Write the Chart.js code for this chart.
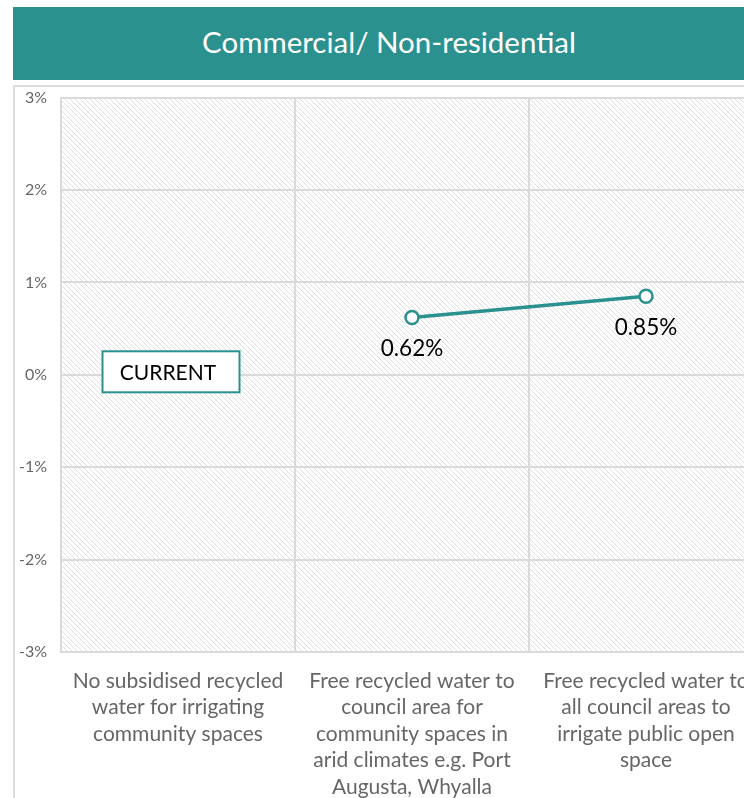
<!DOCTYPE html>
<html>
<head>
<meta charset="utf-8">
<script src="https://cdn.jsdelivr.net/npm/chart.js@4/dist/chart.umd.min.js"></script>
<style>
  html, body { margin: 0; padding: 0; background: #ffffff; width: 744px; height: 798px; overflow: hidden; position: relative; }
  #header {
    position: absolute; left: 13px; top: 7px; width: 752px; height: 73px;
    background: #2b918f; color: #ffffff;
    font-family: "Lato", "Open Sans", sans-serif; font-size: 29.5px;
    display: flex; align-items: center; justify-content: center;
    box-sizing: border-box; padding-bottom: 4px;
  }
  #frame {
    position: absolute; left: 13px; top: 85px; width: 770px; height: 713px;
    border-left: 2px solid #dcdcdc; border-top: 2px solid #dcdcdc;
  }
  #chart { position: absolute; left: 15px; top: 74px; display: block; }
</style>
</head>
<body>
<div id="header">Commercial/ Non-residential</div>
<div id="frame"></div>
<canvas id="chart" width="768" height="724" style="width:768px;height:724px"></canvas>
<script>
// Scenario categories (multi-line axis labels)
const categories = [
  ["No subsidised recycled", "water for irrigating", "community spaces"],
  ["Free recycled water to", "council area for", "community spaces in", "arid climates e.g. Port", "Augusta, Whyalla"],
  ["Free recycled water to", "all council areas to", "irrigate public open", "space"]
];
// Percentage change per scenario (no value for the current baseline)
const changeValues = [null, 0.62, 0.85];
const yTickValues = [-3, -2, -1, 0, 1, 2, 3];
const baselineLabel = "CURRENT";

const TEAL = "#2b918f";
const GRID = "#dadada";

// diagonal hatch fill for the plot area
function makeHatch() {
  const size = 5;
  const c = document.createElement("canvas");
  c.width = size; c.height = size;
  const g = c.getContext("2d");
  g.fillStyle = "#ffffff";
  g.fillRect(0, 0, size, size);
  g.strokeStyle = "#dedede";
  g.lineWidth = 1;
  g.beginPath();
  g.moveTo(-1, -1); g.lineTo(size + 1, size + 1);
  g.moveTo(-1, size - 1); g.lineTo(1, size + 1);
  g.moveTo(size - 1, -1); g.lineTo(size + 1, 1);
  g.stroke();
  return g.createPattern(c, "repeat");
}

const hatchPlugin = {
  id: "hatch",
  beforeDraw(chart) {
    const { ctx, chartArea: a } = chart;
    ctx.save();
    ctx.fillStyle = makeHatch();
    ctx.fillRect(a.left, a.top, a.right - a.left, a.bottom - a.top);
    ctx.restore();
  }
};

const labelsPlugin = {
  id: "valueLabels",
  afterDatasetsDraw(chart) {
    const { ctx } = chart;
    const meta = chart.getDatasetMeta(0);
    ctx.save();
    ctx.font = '22.5px "Lato", sans-serif';
    ctx.fillStyle = "#000000";
    ctx.textAlign = "center";
    ctx.textBaseline = "middle";
    meta.data.forEach((pt, i) => {
      const v = changeValues[i];
      if (v === null || v === undefined) return;
      ctx.fillText(v.toFixed(2) + "%", pt.x, pt.y + 31);
    });

    // baseline marker box on the first category
    const xs = chart.scales.x, ys = chart.scales.y;
    const cx = xs.getPixelForValue(0) - 7;
    const cy = ys.getPixelForValue(0) - 3;
    const w = 137, h = 41;
    ctx.fillStyle = "#ffffff";
    ctx.fillRect(cx - w / 2, cy - h / 2, w, h);
    ctx.strokeStyle = TEAL;
    ctx.lineWidth = 2;
    ctx.strokeRect(cx - w / 2, cy - h / 2, w, h);
    ctx.fillStyle = "#000000";
    ctx.font = '21px "Lato", sans-serif';
    ctx.fillText(baselineLabel, cx - 3, cy + 1);
    ctx.restore();
  }
};

new Chart(document.getElementById("chart"), {
  type: "line",
  data: {
    labels: categories,
    datasets: [{
      data: changeValues,
      borderColor: TEAL,
      borderWidth: 3.5,
      pointRadius: 6.5,
      pointHoverRadius: 6.5,
      pointBackgroundColor: "#ffffff",
      pointBorderColor: TEAL,
      pointBorderWidth: 2.5,
      spanGaps: false
    }]
  },
  options: {
    responsive: false,
    animation: false,
    devicePixelRatio: 1,
    layout: { padding: { top: 8, right: 20, bottom: 0, left: 0 } },
    plugins: { legend: { display: false }, tooltip: { enabled: false } },
    scales: {
      x: {
        type: "category",
        offset: true,
        grid: { offset: true, color: GRID, lineWidth: 2, drawTicks: false },
        border: { color: GRID, width: 2 },
        ticks: {
          color: "#666666",
          font: { family: "Lato", size: 21, lineHeight: 1.26 },
          padding: 16,
          maxRotation: 0,
          autoSkip: false
        },
        afterFit(s) { s.height = 146; }
      },
      y: {
        min: -3, max: 3,
        afterBuildTicks(s) { s.ticks = yTickValues.map(v => ({ value: v })); },
        grid: { color: GRID, lineWidth: 2, drawTicks: false },
        border: { color: GRID, width: 2 },
        ticks: {
          color: "#666666",
          font: { family: "Lato", size: 16 },
          padding: 14,
          callback: v => v + "%"
        },
        afterFit(s) { s.width = 46; }
      }
    }
  },
  plugins: [hatchPlugin, labelsPlugin]
});
</script>
</body>
</html>
